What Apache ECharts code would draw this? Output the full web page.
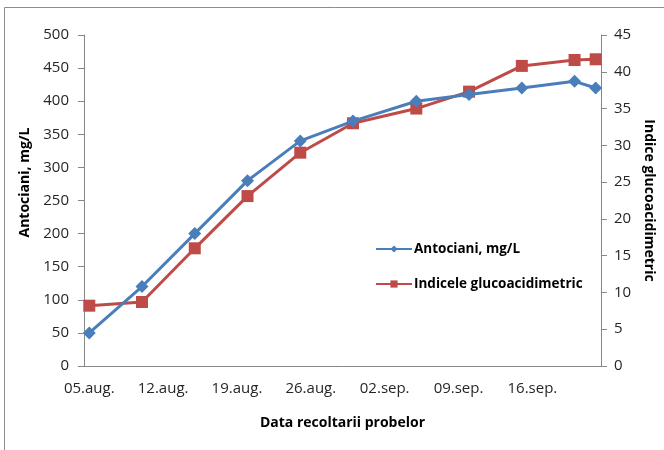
<!DOCTYPE html>
<html>
<head>
<meta charset="utf-8">
<script src="https://cdn.jsdelivr.net/npm/echarts@6/dist/echarts.min.js"></script>
<style>
  html, body { margin: 0; padding: 0; background: #fff; }
  #chart { width: 664px; height: 450px; }
</style>
</head>
<body>
<div id="chart"></div>
<script>
// Sampling dates (day.month) and measured values
const sampleDates = ['05.aug.', '10.aug.', '15.aug.', '20.aug.', '25.aug.', '30.aug.',
                     '05.sep.', '10.sep.', '15.sep.', '20.sep.', '22.sep.'];
const antociani = [50, 120, 200, 280, 340, 370, 400, 410, 420, 430, 420];
const indiceGA = [8.2, 8.7, 16.0, 23.1, 29.0, 33.0, 35.0, 37.3, 40.8, 41.6, 41.7];

// Labels shown on the date axis (weekly)
const tickLabels = ['05.aug.', '12.aug.', '19.aug.', '26.aug.', '02.sep.', '09.sep.', '16.sep.'];
const leftTicks = { min: 0, max: 500, interval: 50 };
const rightTicks = { min: 0, max: 45, interval: 5 };

// One category per calendar day, 05.aug. .. 22.sep.
const days = [];
for (let d = 5; d <= 31; d++) days.push(String(d).padStart(2, '0') + '.aug.');
for (let d = 1; d <= 22; d++) days.push(String(d).padStart(2, '0') + '.sep.');

const FONT = '"Open Sans"';
const axisGray = '#868686';
const labelColor = '#262626';

const chart = echarts.init(document.getElementById('chart'));
chart.setOption({
  animation: false,
  backgroundColor: '#fff',
  textStyle: { fontFamily: FONT },
  graphic: [{
    type: 'rect',
    shape: { x: 4.5, y: 7.5, width: 700, height: 500 },
    style: { fill: 'none', stroke: '#8c8c8c', lineWidth: 1 },
    silent: true
  }],
  grid: { left: 84, right: 56, top: 35, bottom: 84 },
  legend: {
    orient: 'vertical',
    left: 370, top: 237,
    itemWidth: 36, itemHeight: 9, itemGap: 21,
    textStyle: { fontFamily: FONT, fontWeight: 'bold', fontSize: 13.5, color: '#000', padding: [0, 0, 0, -3] },
    data: ['Antociani, mg/L', 'Indicele glucoacidimetric']
  },
  xAxis: {
    type: 'category',
    data: days,
    boundaryGap: true,
    name: 'Data recoltarii probelor',
    nameLocation: 'middle',
    nameGap: 50,
    nameTextStyle: { fontFamily: FONT, fontWeight: 'bold', fontSize: 14, color: '#000' },
    axisLine: { lineStyle: { color: axisGray } },
    axisTick: { show: false },
    axisLabel: {
      interval: (i, v) => tickLabels.includes(v),
      fontFamily: FONT, fontSize: 15, color: labelColor, margin: 15
    },
    splitLine: { show: false }
  },
  yAxis: [{
    type: 'value',
    position: 'left',
    min: leftTicks.min, max: leftTicks.max, interval: leftTicks.interval,
    name: 'Antociani, mg/L',
    nameLocation: 'middle',
    nameGap: 50,
    nameTextStyle: { fontFamily: FONT, fontWeight: 'bold', fontSize: 14, color: '#000', padding: [0, 0, 0, 36] },
    axisLine: { show: true, lineStyle: { color: axisGray } },
    axisTick: { show: true, length: 6, lineStyle: { color: axisGray } },
    axisLabel: { fontFamily: FONT, fontSize: 15, color: labelColor, margin: 15 },
    splitLine: { show: false }
  }, {
    type: 'value',
    position: 'right',
    min: rightTicks.min, max: rightTicks.max, interval: rightTicks.interval,
    name: 'Indice glucoacidimetric',
    nameLocation: 'middle',
    nameRotate: -90,
    nameGap: 38,
    nameTextStyle: { fontFamily: FONT, fontWeight: 'bold', fontSize: 14, color: '#000' },
    axisLine: { show: true, lineStyle: { color: axisGray } },
    axisTick: { show: true, length: 6, lineStyle: { color: axisGray } },
    axisLabel: { fontFamily: FONT, fontSize: 15, color: labelColor, margin: 13 },
    splitLine: { show: false }
  }],
  series: [{
    name: 'Antociani, mg/L',
    type: 'line',
    yAxisIndex: 0,
    data: sampleDates.map((d, i) => [d, antociani[i]]),
    showAllSymbol: true,
    symbol: 'diamond',
    symbolSize: 13,
    lineStyle: { width: 3, color: '#4a7ebb' },
    itemStyle: { color: '#4a7ebb' },
    z: 3
  }, {
    name: 'Indicele glucoacidimetric',
    type: 'line',
    yAxisIndex: 1,
    data: sampleDates.map((d, i) => [d, indiceGA[i]]),
    showAllSymbol: true,
    symbol: 'rect',
    symbolSize: 12,
    lineStyle: { width: 3, color: '#be4b48' },
    itemStyle: { color: '#be4b48' },
    z: 2
  }]
});
</script>
</body>
</html>
